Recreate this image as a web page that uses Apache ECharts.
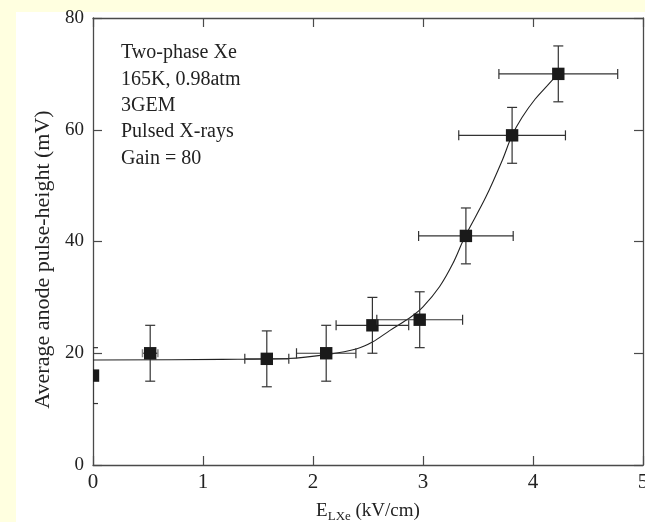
<!DOCTYPE html>
<html>
<head>
<meta charset="utf-8">
<script src="https://cdn.jsdelivr.net/npm/echarts@6/dist/echarts.min.js"></script>
<style>
html,body{margin:0;padding:0;background:#FFFFE0;}
#chart{width:645px;height:522px;}
</style>
</head>
<body>
<div id="chart"></div>
<script>
// Data
var fieldX = [0, 0.52, 1.58, 2.12, 2.54, 2.97, 3.39, 3.81, 4.23];
var pulseY = [16, 20, 19, 20, 25, 26, 41, 59, 70];
var xErr   = [0, 0.07, 0.2, 0.27, 0.33, 0.39, 0.43, 0.485, 0.54];
var yErr   = [5, 5, 5, 5, 5, 5, 5, 5, 5];

var fitX = [0, 1.17, 1.77, 2.14, 2.40, 2.54, 2.70, 2.89, 3.0, 3.15, 3.27, 3.38, 3.57, 3.72, 3.81, 3.90, 4.02, 4.13, 4.23];
var fitY = [18.8, 18.9, 19.06, 19.8, 20.8, 22.0, 24.1, 26.5, 28.3, 31.9, 36.0, 40.8, 47.9, 54.5, 59.0, 62.2, 65.5, 67.9, 70.1];

var xTicks = [0, 1, 2, 3, 4, 5];
var yTicks = [0, 20, 40, 60, 80];
var notes = ['Two-phase Xe', '165K, 0.98atm', '3GEM', 'Pulsed X-rays', 'Gain = 80'];

var serif = '"Liberation Serif", "DejaVu Serif", serif';
var axisColor = '#4a4a4a';

var pts = fieldX.map(function (x, i) { return [x, pulseY[i], xErr[i], yErr[i]]; });
var fit = fitX.map(function (x, i) { return [x, fitY[i]]; });

var chart = echarts.init(document.getElementById('chart'));

function baseAxis(extra) {
  var a = {
    type: 'value',
    axisLine: { show: true, onZero: false, lineStyle: { color: axisColor, width: 1.3 } },
    axisTick: { show: true, inside: true, length: 9, lineStyle: { color: axisColor, width: 1.2 } },
    splitLine: { show: false },
    axisLabel: { color: '#222', fontFamily: serif, fontSize: 19 }
  };
  for (var k in extra) a[k] = extra[k];
  return a;
}

var option = {
  backgroundColor: '#FFFFE0',
  animation: false,
  grid: { left: 93, right: 2, top: 18, bottom: 57, containLabel: false, outerBoundsMode: 'none' },
  graphic: [
    { type: 'rect', left: 16, top: 12, z: -10, silent: true,
      shape: { width: 629, height: 510 }, style: { fill: '#FFFFFF' } },
    { type: 'text', left: 121, top: 40, z: 10,
      style: { text: notes.join('\n'), font: '20px ' + serif, fill: '#222', lineHeight: 26.3 } }
  ],
  xAxis: [
    baseAxis({
      min: xTicks[0], max: xTicks[xTicks.length - 1], interval: 1,
      position: 'bottom',
      axisLabel: { color: '#222', fontFamily: serif, fontSize: 21, margin: 7 },
      name: '{e|E}{s|LXe}{e| (kV/cm)}',
      nameLocation: 'middle', nameGap: 35,
      nameTextStyle: {
        rich: {
          e: { fontFamily: serif, fontSize: 19, color: '#222' },
          s: { fontFamily: serif, fontSize: 13, color: '#222', padding: [10, 0, 0, 0] }
        }
      }
    }),
    baseAxis({
      min: xTicks[0], max: xTicks[xTicks.length - 1], interval: 1,
      position: 'top', axisLabel: { show: false }
    })
  ],
  yAxis: [
    baseAxis({
      min: yTicks[0], max: yTicks[yTicks.length - 1], interval: 20,
      position: 'left',
      axisLabel: { color: '#222', fontFamily: serif, fontSize: 19, margin: 9 },
      name: 'Average anode pulse-height (mV)',
      nameLocation: 'middle', nameGap: 39, nameRotate: 90,
      nameTextStyle: { fontFamily: serif, fontSize: 22, color: '#222', padding: [0, 0, 0, -36] }
    }),
    baseAxis({
      min: yTicks[0], max: yTicks[yTicks.length - 1], interval: 20,
      position: 'right', axisLabel: { show: false }
    })
  ],
  series: [
    {
      type: 'line',
      data: fit,
      smooth: 0.35,
      showSymbol: false,
      lineStyle: { color: '#222', width: 1.1 },
      z: 2
    },
    {
      type: 'custom',
      clip: true,
      data: pts,
      z: 3,
      renderItem: function (params, api) {
        var x = api.value(0), y = api.value(1), ex = api.value(2), ey = api.value(3);
        var c = api.coord([x, y]);
        var top = api.coord([x, y + ey]);
        var bot = api.coord([x, y - ey]);
        var lft = api.coord([x - ex, y]);
        var rgt = api.coord([x + ex, y]);
        var cap = 5, s = 6.2;
        var ls = { stroke: '#333', lineWidth: 1.2 };
        var children = [
          { type: 'line', shape: { x1: c[0], y1: top[1], x2: c[0], y2: bot[1] }, style: ls },
          { type: 'line', shape: { x1: c[0] - cap, y1: top[1], x2: c[0] + cap, y2: top[1] }, style: ls },
          { type: 'line', shape: { x1: c[0] - cap, y1: bot[1], x2: c[0] + cap, y2: bot[1] }, style: ls }
        ];
        if (ex > 0) {
          var capH = ex < 0.1 ? 4 : cap;
          var hs = ex < 0.1 ? { stroke: '#888', lineWidth: 1.5 } : ls;
          children.push(
            { type: 'line', shape: { x1: lft[0], y1: c[1], x2: rgt[0], y2: c[1] }, style: ls },
            { type: 'line', shape: { x1: lft[0], y1: c[1] - capH, x2: lft[0], y2: c[1] + capH }, style: hs },
            { type: 'line', shape: { x1: rgt[0], y1: c[1] - capH, x2: rgt[0], y2: c[1] + capH }, style: hs }
          );
        }
        children.push({ type: 'rect', shape: { x: c[0] - s, y: c[1] - s, width: 2 * s, height: 2 * s },
          style: { fill: '#1a1a1a' } });
        return { type: 'group', children: children };
      }
    }
  ]
};
chart.setOption(option);
</script>
</body>
</html>
